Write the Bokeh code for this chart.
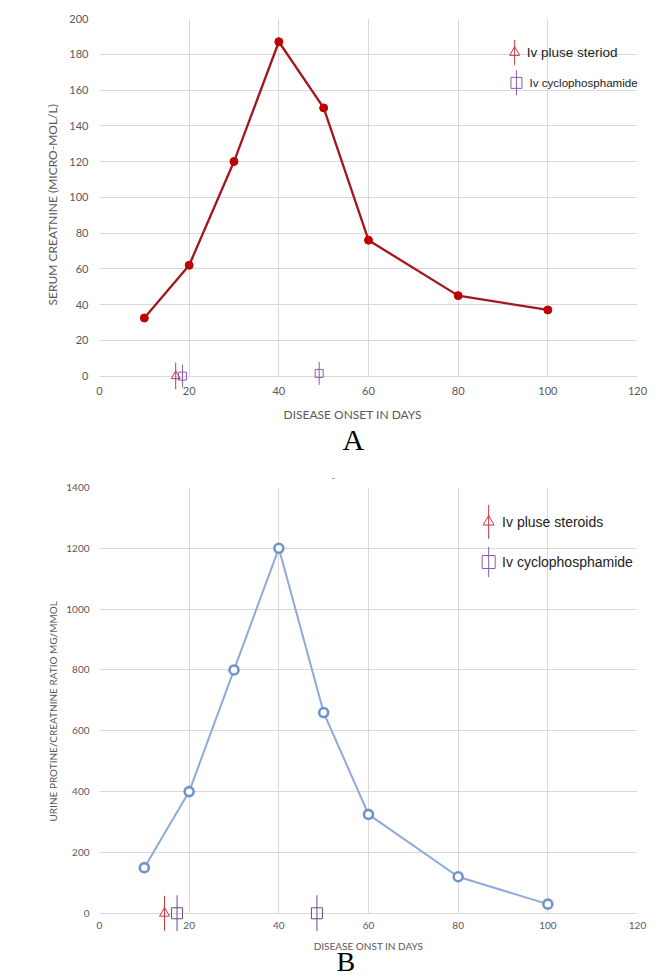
import math
from bokeh.plotting import figure
from bokeh.models import Range1d, SingleIntervalTicker, Label, Title
from bokeh.layouts import column
from bokeh.embed import file_html
from bokeh.resources import INLINE

# ---------------- data ----------------
days = [10, 20, 30, 40, 50, 60, 80, 100]
serum_creatinine = [32.5, 62, 120, 187, 150, 76, 45, 37]
urine_pcr = [150, 400, 800, 1200, 660, 325, 120, 30]

steroid_days_a = [17]
steroid_vals_a = [0]
cyclo_days_a = [18.5, 49]
cyclo_vals_a = [0, 1.5]

steroid_days_b = [14.5]
steroid_vals_b = [0]
cyclo_days_b = [17.3, 48.5]
cyclo_vals_b = [0, 0]

legend_labels_a = ["Iv pluse steriod", "Iv cyclophosphamide"]
legend_labels_b = ["Iv pluse steroids", "Iv cyclophosphamide"]

# ---------------- styles ----------------
GRID = "#d9d9d9"
TICK_TXT = "#595959"
STEROID_COL = "#d0343a"
CYCLO_COL = "#8a5cb0"
CYCLO_LINE = "#6a4a8c"


def base_fig(height, ylo, ymax, yint, borders, tick_font):
    top, right, bottom, left = borders
    p = figure(width=648, height=height, output_backend="svg", toolbar_location=None,
               x_range=Range1d(0, 120), y_range=Range1d(ylo, ymax),
               min_border_top=top, min_border_right=right,
               min_border_bottom=bottom, min_border_left=left)
    p.outline_line_color = None
    p.background_fill_color = "white"
    p.border_fill_color = "white"
    p.xaxis.ticker = SingleIntervalTicker(interval=20)
    p.yaxis.ticker = SingleIntervalTicker(interval=yint)
    for ax in (p.xaxis[0], p.yaxis[0]):
        ax.major_tick_line_color = None
        ax.minor_tick_line_color = None
        ax.major_tick_out = 0
        ax.minor_tick_out = 0
        ax.major_label_text_font = "Lato"
        ax.major_label_text_font_size = tick_font
        ax.major_label_text_color = TICK_TXT
        ax.axis_label_text_font = "Lato"
        ax.axis_label_text_font_style = "normal"
        ax.axis_label_text_color = TICK_TXT
        ax.axis_line_color = None
    p.xgrid.grid_line_color = GRID
    p.ygrid.grid_line_color = GRID
    p.xgrid.cross_bounds = (0, ymax)
    return p


def side_title(text, align, offset, standoff, font, size, color, valign="middle"):
    return Title(text=text, align=align, offset=offset, standoff=standoff,
                 vertical_align=valign, text_font=font, text_font_size=size,
                 text_font_style="normal", text_color=color)


# ---------------- chart A ----------------
pa = base_fig(460, -7.5, 200, 20, (18, 10, 71, 94), "11px")
pa.xaxis.major_label_standoff = -3
pa.yaxis.major_label_standoff = 11
pa.add_layout(side_title("SERUM CREATNINE (MICRO-MOL/L)", "left", 84, 12,
                         "Lato", "12px", TICK_TXT), "left")

pa.line(days, serum_creatinine, line_color="#a3161c", line_width=2.3)
pa.scatter(days, serum_creatinine, marker="circle", size=8,
           fill_color="#c00000", line_color="#c00000")

pa.scatter(steroid_days_a, steroid_vals_a, marker="dash", angle=math.pi / 2, size=27,
           line_color=STEROID_COL, line_width=1)
pa.scatter(steroid_days_a, steroid_vals_a, marker="triangle", size=9,
           fill_color=None, line_color=STEROID_COL, line_width=1)
pa.scatter(cyclo_days_a, cyclo_vals_a, marker="dash", angle=math.pi / 2, size=23,
           line_color=CYCLO_COL, line_width=1)
pa.scatter(cyclo_days_a, cyclo_vals_a, marker="square", size=8,
           fill_color=None, line_color=CYCLO_COL, line_width=1)

# legend A (data-space placement)
LA_X, LA_TX, LA_Y = 92.6, 95.3, [181, 164]
pa.scatter([LA_X], [LA_Y[0]], marker="dash", angle=math.pi / 2, size=25,
           line_color=STEROID_COL, line_width=1)
pa.scatter([LA_X], [LA_Y[0]], marker="triangle", size=10,
           fill_color=None, line_color=STEROID_COL, line_width=1)
pa.scatter([LA_X + 0.4], [LA_Y[1]], marker="dash", angle=math.pi / 2, size=25,
           line_color=CYCLO_COL, line_width=1)
pa.scatter([LA_X + 0.4], [LA_Y[1]], marker="square", size=11,
           fill_color=None, line_color=CYCLO_COL, line_width=1)
pa.add_layout(Label(x=LA_TX, y=LA_Y[0], text=legend_labels_a[0], text_font="Liberation Sans",
                    text_font_size="13.5px", text_color="#222222", text_baseline="middle"))
pa.add_layout(Label(x=LA_TX + 0.6, y=LA_Y[1], text=legend_labels_a[1], text_font="Liberation Sans",
                    text_font_size="11.6px", text_color="#222222", text_baseline="middle"))

pa.add_layout(side_title("DISEASE ONSET IN DAYS", "left", 184, 16,
                         "Lato", "12px", TICK_TXT), "below")
pa.add_layout(side_title("A", "left", 243, -18,
                         "Liberation Serif", "30px", "#000000"), "below")

# ---------------- chart B ----------------
pb = base_fig(520, -60, 1400, 200, (27, 11, 49, 99), "10px")
pb.xaxis.major_label_standoff = -10
pb.yaxis.major_label_standoff = 10
pb.xaxis.axis_label = "DISEASE ONST IN DAYS"
pb.xaxis.axis_label_text_font_size = "10px"
pb.xaxis.axis_label_standoff = 8
pb.add_layout(side_title("URINE PROTINE/CREATNINE RATIO  MG/MMOL", "left", 110, 7,
                         "Lato", "10px", TICK_TXT), "left")

pb.line(days, urine_pcr, line_color="#8eaad8", line_width=2)
pb.scatter(days, urine_pcr, marker="circle", size=9,
           fill_color="white", line_color="#6f93cf", line_width=2.6)

pb.scatter(steroid_days_b, steroid_vals_b, marker="dash", angle=math.pi / 2, size=35,
           line_color=STEROID_COL, line_width=1)
pb.scatter(steroid_days_b, steroid_vals_b, marker="triangle", size=10,
           fill_color=None, line_color=STEROID_COL, line_width=1)
pb.scatter(cyclo_days_b, cyclo_vals_b, marker="dash", angle=math.pi / 2, size=36,
           line_color=CYCLO_LINE, line_width=1)
pb.scatter(cyclo_days_b, cyclo_vals_b, marker="square", size=11,
           fill_color=None, line_color=CYCLO_LINE, line_width=1)

LB_X, LB_TX, LB_Y = 86.8, 89.8, [1287, 1155]
pb.scatter([LB_X], [LB_Y[0]], marker="dash", angle=math.pi / 2, size=34,
           line_color=STEROID_COL, line_width=1)
pb.scatter([LB_X], [LB_Y[0]], marker="triangle", size=11,
           fill_color=None, line_color=STEROID_COL, line_width=1)
pb.scatter([LB_X], [LB_Y[1]], marker="dash", angle=math.pi / 2, size=30,
           line_color=CYCLO_COL, line_width=1)
pb.scatter([LB_X], [LB_Y[1]], marker="square", size=13,
           fill_color=None, line_color=CYCLO_COL, line_width=1)
for yy, txt in zip(LB_Y, legend_labels_b):
    pb.add_layout(Label(x=LB_TX, y=yy, text=txt, text_font="Liberation Sans",
                        text_font_size="14px", text_color="#222222", text_baseline="middle"))

pb.add_layout(side_title("-", "left", 232, 9, "Lato", "10px", "#777777", "top"), "above")
pb.add_layout(side_title("B", "left", 237, -19,
                         "Liberation Serif", "28px", "#000000"), "below")

layout = column(pa, pb, spacing=0)
open("out.html", "w").write(file_html(layout, INLINE))
